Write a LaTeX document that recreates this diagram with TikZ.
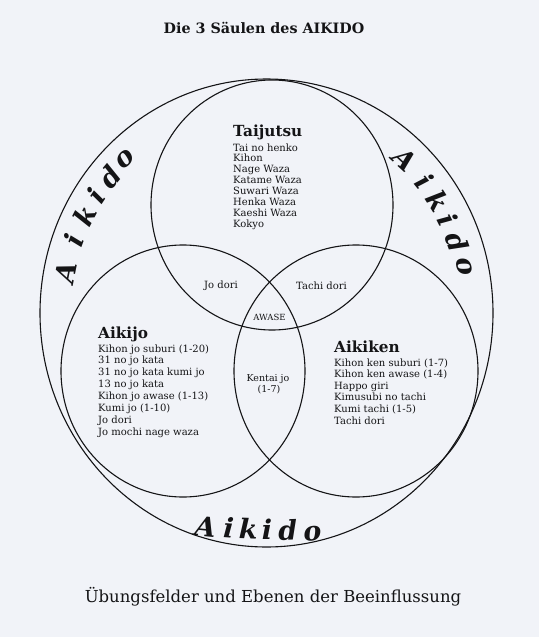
\documentclass[tikz,border=0pt]{standalone}
\usepackage{fontspec}
\newfontfamily\dv{DejaVu Serif}
\definecolor{paper}{RGB}{241,243,248}
\definecolor{ink}{RGB}{20,20,22}
\tikzset{
  ring/.style={draw=ink, line width=1.1pt},
  hdr/.style={font=\dv\bfseries\fontsize{15.3}{18}\selectfont, text=ink, anchor=base west, inner sep=0pt},
  item/.style={font=\dv\fontsize{10}{12}\selectfont, text=ink, anchor=base west, inner sep=0pt},
  lbl/.style={font=\dv\fontsize{10}{12}\selectfont, text=ink, anchor=base, inner sep=0pt},
  brush/.style={font=\dv\bfseries\itshape\fontsize{27}{32}\selectfont, text=ink, inner sep=0pt},
}
\begin{document}
\begin{tikzpicture}[x=1pt,y=-1pt]
\useasboundingbox (0,0) rectangle (539,637);
\fill[paper] (0,0) rectangle (539,637);

% circles
\draw[ring] (266.5,313) ellipse [x radius=226.5, y radius=234];
\draw[ring] (272,205) ellipse [x radius=121, y radius=125];
\draw[ring] (183,371) ellipse [x radius=122, y radius=126];
\draw[ring] (356,371) ellipse [x radius=122, y radius=126];

% title and caption
\node[font=\dv\bfseries\fontsize{14.3}{16}\selectfont, text=ink, anchor=base, inner sep=0pt] (title) at (264,33) {Die 3 Säulen des AIKIDO};
\node[font=\dv\fontsize{16.5}{19}\selectfont, text=ink, anchor=base, inner sep=0pt] (caption) at (273,602) {Übungsfelder und Ebenen der Beeinflussung};

% Aikido letters
\foreach \ch/\a [count=\i] in {A/168.8, i/159.8, k/152.6, i/146.4, d/140.0, o/133.4}
  \node[brush, rotate=\a-90] (la\i) at ({266.5+205*cos(\a)}, {313-212*sin(\a)}) {\ch};
\foreach \ch/\a [count=\i] in {A/47.2, i/38.8, k/32.4, i/26.4, d/19.8, o/12.8}
  \node[brush, rotate=\a-90] (ra\i) at ({266.5+203*cos(\a)}, {313-210*sin(\a)}) {\ch};
\foreach \ch/\x/\y/\r [count=\i] in {A/205/537/-6, i/228/538/-4, k/248/539/-2, i/267/539/0, d/288/540/2, o/313/541/5}
  \node[brush, anchor=base, rotate=\r] (ba\i) at (\x,\y) {\ch};

% Taijutsu
\node[hdr] (tai) at (233,136) {Taijutsu};
\foreach \t [count=\i] in {Tai no henko, Kihon, Nage Waza, Katame Waza, Suwari Waza, Henka Waza, Kaeshi Waza, Kokyo}
  \node[item] (tai\i) at (233,{151+10.9*(\i-1)}) {\t};

% Aikijo
\node[hdr] (jo) at (98,338) {Aikijo};
\foreach \t [count=\i] in {Kihon jo suburi (1-20), 31 no jo kata, 31 no jo kata kumi jo, 13 no jo kata, Kihon jo awase (1-13), Kumi jo (1-10), Jo dori, Jo mochi nage waza}
  \node[item] (jo\i) at (98,{352+11.9*(\i-1)}) {\t};

% Aikiken
\node[hdr] (ken) at (334,352) {Aikiken};
\foreach \t [count=\i] in {Kihon ken suburi (1-7), Kihon ken awase (1-4), Happo giri, Kimusubi no tachi, Kumi tachi (1-5), Tachi dori}
  \node[item] (ken\i) at (334,{366+11.6*(\i-1)}) {\t};

% intersections
\node[lbl] (jodori) at (221,288) {Jo dori};
\node[lbl] (tachidori) at (321.5,289) {Tachi dori};
\node[lbl, font=\dv\fontsize{8.5}{10}\selectfont] (awase) at (269.5,320) {AWASE};
\node[lbl, font=\dv\fontsize{9.5}{11}\selectfont] (kentai) at (268,381) {Kentai jo};
\node[lbl, font=\dv\fontsize{9.5}{11}\selectfont] (kentai2) at (269,392) {(1-7)};
\end{tikzpicture}
\end{document}
